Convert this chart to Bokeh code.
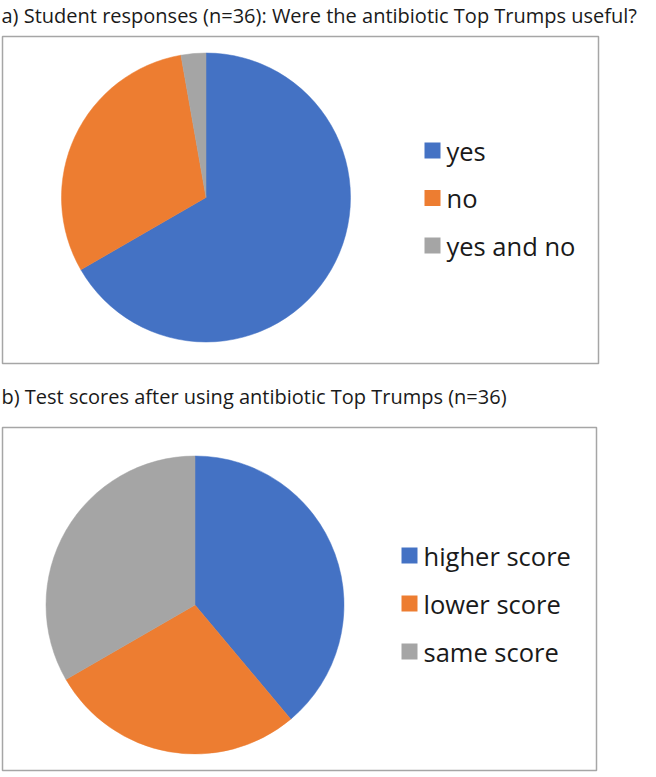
import numpy as np
from bokeh.plotting import figure
from bokeh.models import Range1d, ColumnDataSource
from bokeh.core.properties import value
from bokeh.embed import file_html
from bokeh.resources import INLINE

# ---- data ----
title_a = "a) Student responses (n=36): Were the antibiotic Top Trumps useful?"
cats_a = ["yes", "no", "yes and no"]
vals_a = [24, 11, 1]

title_b = "b) Test scores after using antibiotic Top Trumps (n=36)"
cats_b = ["higher score", "lower score", "same score"]
vals_b = [14, 10, 12]

colors = ["#4472C4", "#ED7D31", "#A5A5A5"]

W, H = 656, 777
FONT = "Open Sans"


def X(rx):
    return rx


def Y(ry):
    return H - ry


p = figure(width=W, height=H, output_backend="svg", toolbar_location=None,
           x_range=Range1d(0, W), y_range=Range1d(0, H), min_border=0)
p.axis.visible = False
p.grid.visible = False
p.outline_line_color = None


def pie(title, ty, box, cx, cy, r, cats, vals, lx, ly0, dy):
    p.text(x=[X(1)], y=[Y(ty)], text=[title], text_font=value(FONT),
           text_font_size="20px", text_baseline="middle", text_color="#1a1a1a")
    x0, y0, x1, y1 = box
    p.quad(left=[X(x0)], right=[X(x1)], top=[Y(y0)], bottom=[Y(y1)],
           fill_color=None, line_color="#A6A6A6", line_width=1.5)
    v = np.array(vals, dtype=float)
    frac = v / v.sum()
    cend = np.cumsum(frac)
    cstart = cend - frac
    src = ColumnDataSource(dict(
        start=np.pi / 2 - cstart * 2 * np.pi,
        end=np.pi / 2 - cend * 2 * np.pi,
        color=colors[:len(vals)],
        cat=cats,
    ))
    p.wedge(x=X(cx), y=Y(cy), radius=r, radius_units="screen",
            start_angle="start", end_angle="end", direction="clock",
            fill_color="color", line_color="color", line_width=0.5, source=src)
    ys = [Y(ly0 + i * dy) for i in range(len(cats))]
    p.scatter(x=[X(lx)] * len(cats), y=ys, marker="square", size=16,
              fill_color=colors[:len(cats)], line_color=None)
    p.text(x=[X(lx + 14)] * len(cats), y=ys, text=cats, text_font=value(FONT),
           text_font_size="25.5px", text_baseline="middle", text_color="#1a1a1a")


pie(title_a, 15, (2, 36, 598, 363), 205.5, 197, 144.5, cats_a, vals_a, 432, 150, 47.5)
pie(title_b, 396, (2, 427, 596, 770), 194.5, 604.5, 149, cats_b, vals_b, 409, 555, 48)

open("out.html", "w").write(file_html(p, INLINE))
